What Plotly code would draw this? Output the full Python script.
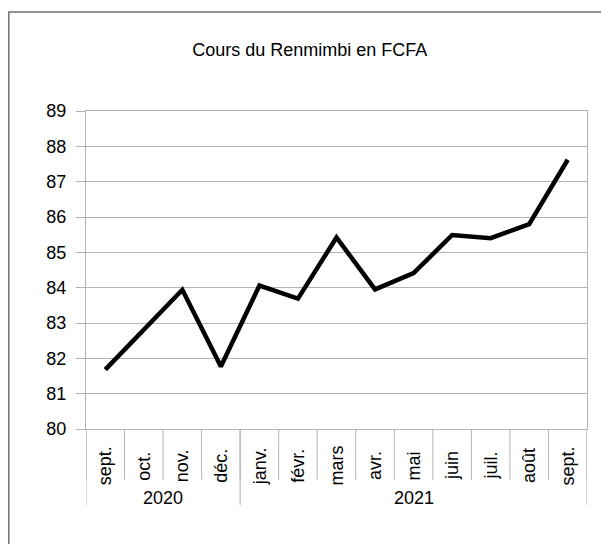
import plotly.graph_objects as go

months = ["sept.", "oct.", "nov.", "déc.", "janv.", "févr.", "mars",
          "avr.", "mai", "juin", "juil.", "août", "sept."]
years = ["2020", "2021"]
months_per_year = [4, 9]
cours = [81.68, 82.81, 83.94, 81.77, 84.06, 83.69, 85.42,
         83.95, 84.41, 85.49, 85.40, 85.80, 87.62]

font = "Liberation Sans, Arial, sans-serif"
grid = "#b3b3b3"
x = list(range(len(months)))

fig = go.Figure()
fig.add_trace(go.Scatter(
    x=x, y=cours,
    mode="lines",
    line=dict(width=4.5, color="black"),
    hoverinfo="y",
    showlegend=False
))

shapes = []
# month dividers below the axis
for i in range(len(months) + 1):
    shapes.append(dict(type="line", xref="x", yref="paper",
                       x0=i - 0.5, x1=i - 0.5, y0=0, y1=-0.16,
                       line=dict(color=grid, width=1)))
# year dividers, longer
pos = 0
edges = [0]
for n in months_per_year:
    pos += n
    edges.append(pos)
for e in edges:
    shapes.append(dict(type="line", xref="x", yref="paper",
                       x0=e - 0.5, x1=e - 0.5, y0=0, y1=-0.24,
                       line=dict(color=grid, width=1)))
# outer frame of the chart
shapes.append(dict(type="rect", xref="paper", yref="paper",
                   x0=-0.1540, x1=1.2, y0=-0.6, y1=1.311,
                   line=dict(color="#6e6e6e", width=1.5)))

annotations = []
for i, m in enumerate(months):
    annotations.append(dict(x=i, y=-0.116, xref="x", yref="paper",
                            text=m, textangle=-90, showarrow=False,
                            xanchor="center", yanchor="middle",
                            font=dict(size=18, color="black", family=font)))
for k, yr in enumerate(years):
    annotations.append(dict(x=(edges[k] + edges[k + 1] - 1) / 2, y=-0.218,
                            xref="x", yref="paper", text=yr, showarrow=False,
                            xanchor="center", yanchor="middle",
                            font=dict(size=18, color="black", family=font)))

fig.update_layout(
    width=601, height=536,
    margin=dict(l=78, r=22, t=103, b=115),
    paper_bgcolor="white", plot_bgcolor="white",
    font=dict(family=font, size=18, color="black"),
    title=dict(text="Cours du Renmimbi en FCFA", x=0.502, xanchor="center",
               y=0.922, yanchor="middle", font=dict(size=18)),
    xaxis=dict(range=[-0.5, len(months) - 0.5], showticklabels=False,
               showgrid=False, zeroline=False, showline=True, linecolor=grid,
               mirror=True, ticks=""),
    yaxis=dict(range=[80, 89], dtick=1, showgrid=True, gridcolor=grid,
               zeroline=False, showline=True, linecolor=grid, mirror=True,
               ticks="outside", ticklen=9, tickcolor=grid,
               ticklabelstandoff=6),
    shapes=shapes,
    annotations=annotations,
)

fig.write_html("out.html")
